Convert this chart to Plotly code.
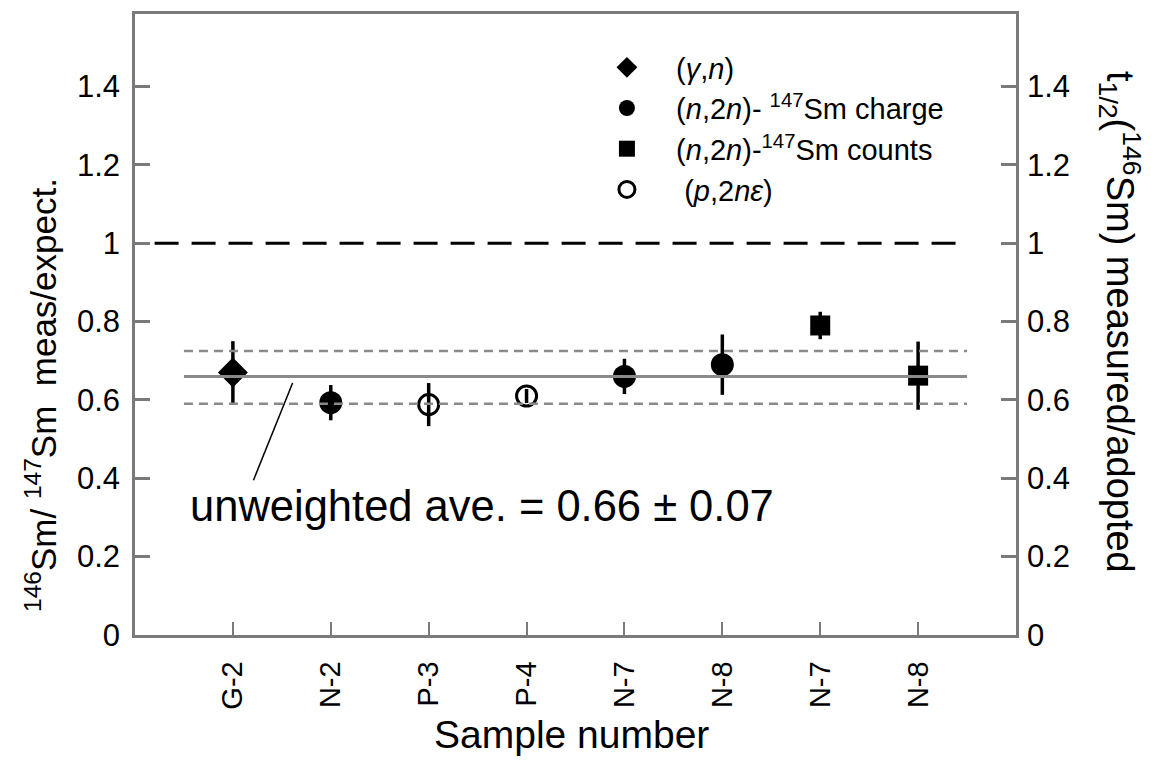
import plotly.graph_objects as go

# ---- data ----
sample_pos = [1, 2, 3, 4, 5, 6, 7, 8]
sample_labels = ["G-2", "N-2", "P-3", "P-4", "N-7", "N-8", "N-7", "N-8"]

gn_x = [1]
gn_y = [0.67]
gn_err = [0.08]

charge_x = [2, 5, 6]
charge_y = [0.593, 0.66, 0.69]
charge_err = [0.045, 0.045, 0.077]

counts_x = [7, 8]
counts_y = [0.79, 0.662]
counts_err = [0.035, 0.087]

p2ne_x = [3, 4]
p2ne_y = [0.588, 0.61]
p2ne_err = [0.055, 0.018]

avg_value = 0.66
avg_upper = 0.725
avg_lower = 0.59
expected_value = 1.0

y_ticks = [0, 0.2, 0.4, 0.6, 0.8, 1.0, 1.2, 1.4]
y_ticktext = ["0", "0.2", "0.4", "0.6", "0.8", "1", "1.2", "1.4"]

FONT = "Liberation Sans, Arial, Helvetica, sans-serif"
GRAY = "#8a8a8a"
AXG = "#7a7a7a"
SP = "\u00a0"

fig = go.Figure()


def add_series(x, y, err, name, symbol, size, line_w=0):
    fig.add_trace(go.Scatter(
        x=x, y=y, mode="markers", name=name, legendgroup=name,
        marker=dict(symbol=symbol, size=size, color="black",
                    line=dict(color="black", width=line_w)),
        error_y=dict(type="data", array=err, visible=True, color="black",
                     thickness=3.5, width=0),
    ))


add_series(gn_x, gn_y, gn_err, SP * 3 + "(<i>γ</i>,<i>n</i>)", "diamond", 23)
add_series(charge_x, charge_y, charge_err,
           SP * 3 + "(<i>n</i>,2<i>n</i>)- <sup>147</sup>Sm charge", "circle", 23)
add_series(counts_x, counts_y, counts_err,
           SP * 3 + "(<i>n</i>,2<i>n</i>)-<sup>147</sup>Sm counts", "square", 20)
add_series(p2ne_x, p2ne_y, p2ne_err, SP * 4 + "(<i>p</i>,2<i>nε</i>)",
           "circle-open", 20, line_w=3)

# empty trace so the right-hand axis is drawn
fig.add_trace(go.Scatter(x=[], y=[], yaxis="y2", showlegend=False,
                         hoverinfo="skip"))

# reference lines
fig.add_shape(type="line", xref="x", yref="y", x0=0.2, x1=8.5,
              y0=expected_value, y1=expected_value,
              line=dict(color="black", width=3, dash="24px,13px"))
fig.add_shape(type="line", xref="x", yref="y", x0=0.5, x1=8.5,
              y0=avg_value, y1=avg_value,
              line=dict(color=GRAY, width=3))
for yy in (avg_upper, avg_lower):
    fig.add_shape(type="line", xref="x", yref="y", x0=0.5, x1=8.5,
                  y0=yy, y1=yy,
                  line=dict(color=GRAY, width=2.5, dash="9px,6px"))
# leader line
fig.add_shape(type="line", xref="x", yref="y", x0=1.61, y0=0.643,
              x1=1.21, y1=0.395, line=dict(color="black", width=1.5))

fig.add_annotation(x=3.54, y=0.33, xref="x", yref="y",
                   xanchor="center", yanchor="middle",
                   text="unweighted ave. = 0.66 ± 0.07", showarrow=False,
                   font=dict(size=43.5, color="black", family=FONT))

# axis titles as annotations
fig.add_annotation(x=-0.106, y=0.386, xref="paper", yref="paper",
                   xanchor="center", yanchor="middle",
                   text="<sup>146</sup>Sm/ <sup>147</sup>Sm" + SP * 2 + "meas/expect.",
                   textangle=-90, showarrow=False,
                   font=dict(size=35, color="black", family=FONT))
fig.add_annotation(x=1.118, y=0.504, xref="paper", yref="paper",
                   xanchor="center", yanchor="middle",
                   text="t<sub>1/2</sub>(<sup>146</sup>Sm) measured/adopted",
                   textangle=90, showarrow=False,
                   font=dict(size=38, color="black", family=FONT))
fig.add_annotation(x=0.496, y=-0.161, xref="paper", yref="paper",
                   xanchor="center", yanchor="middle",
                   text="Sample number", showarrow=False,
                   font=dict(size=39, color="black", family=FONT))

fig.update_layout(
    width=1158, height=760,
    margin=dict(l=135, r=142, t=14, b=125),
    paper_bgcolor="white", plot_bgcolor="white",
    font=dict(family=FONT, color="black"),
    showlegend=True,
    legend=dict(x=0.53, y=0.955, xanchor="left", yanchor="top",
                bgcolor="rgba(0,0,0,0)", font=dict(size=29, color="black"),
                tracegroupgap=0, itemwidth=40),
    xaxis=dict(range=[0, 9], tickvals=sample_pos, ticktext=sample_labels,
               tickangle=-90, ticks="inside", ticklen=13, tickwidth=2,
               tickcolor=AXG, showline=True, linecolor=AXG, linewidth=2.5,
               mirror=True, showgrid=False, zeroline=False,
               tickfont=dict(size=29, color="black"), ticklabelstandoff=12),
    yaxis=dict(range=[0, 1.585], tickvals=y_ticks, ticktext=y_ticktext,
               ticks="inside", ticklen=15, tickwidth=2.5, tickcolor=AXG,
               showline=True, linecolor=AXG, linewidth=2.5,
               showgrid=False, zeroline=False,
               tickfont=dict(size=31, color="black"), ticklabelstandoff=6),
    yaxis2=dict(range=[0, 1.585], tickvals=y_ticks, ticktext=y_ticktext,
                overlaying="y", side="right",
                ticks="inside", ticklen=15, tickwidth=2.5, tickcolor=AXG,
                showline=True, linecolor=AXG, linewidth=2.5,
                showgrid=False, zeroline=False,
                tickfont=dict(size=31, color="black"), ticklabelstandoff=2),
)

fig.write_html("out.html")
